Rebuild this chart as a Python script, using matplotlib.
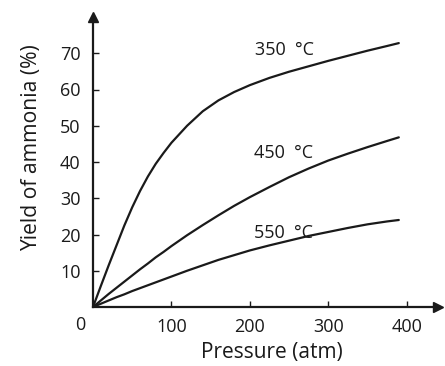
import matplotlib.pyplot as plt

# values
pressure = [0, 10, 20, 30, 40, 50, 60, 70, 80, 90, 100, 120, 140, 160, 180,
            200, 225, 250, 275, 300, 325, 350, 375, 390]
yield_350 = [0, 5.8, 11.5, 17, 22.5, 27.5, 32, 36, 39.5, 42.5, 45.3, 50, 54,
             57, 59.3, 61.2, 63.2, 64.9, 66.4, 67.9, 69.3, 70.7, 72, 72.8]
yield_450 = [0, 1.8, 3.6, 5.3, 7, 8.7, 10.4, 12, 13.7, 15.2, 16.8, 19.8, 22.6,
             25.3, 27.9, 30.3, 33.1, 35.8, 38.2, 40.4, 42.3, 44.1, 45.8, 46.8]
yield_550 = [0, 0.9, 1.8, 2.7, 3.5, 4.4, 5.2, 6, 6.8, 7.6, 8.4, 10, 11.5, 13,
             14.3, 15.6, 17, 18.3, 19.6, 20.7, 21.8, 22.8, 23.6, 24]

series = [yield_350, yield_450, yield_550]
labels = ["350  \u00b0C", "450  \u00b0C", "550  \u00b0C"]
label_pos = [(206, 70.8), (205, 42.4), (205, 20.4)]

x_ticks = [100, 200, 300, 400]
y_ticks = [10, 20, 30, 40, 50, 60, 70]

plt.rcParams['font.family'] = ['Open Sans', 'DejaVu Sans']
ink = '#1a1a1a'

fig = plt.figure(figsize=(4.45, 3.66), dpi=100)
ax = fig.add_axes([93 / 445, 59 / 366, 345 / 445, 290 / 366])

for ys in series:
    ax.plot(pressure, ys, color=ink, lw=1.6, solid_capstyle='round')

for txt, (tx, ty) in zip(labels, label_pos):
    ax.text(tx, ty, txt, fontsize=13, color=ink, va='center', ha='left')

ax.set_xlim(0, 440)
ax.set_ylim(0, 80)

for side in ['top', 'right']:
    ax.spines[side].set_visible(False)
for side in ['left', 'bottom']:
    ax.spines[side].set_linewidth(1.6)
    ax.spines[side].set_color(ink)

# arrow heads on the axes
ax.plot(1, 0, '>', color=ink, ms=7, transform=ax.transAxes, clip_on=False)
ax.plot(0, 1, '^', color=ink, ms=7, transform=ax.transAxes, clip_on=False)

ax.set_xticks(x_ticks)
ax.set_yticks(y_ticks)
ax.tick_params(direction='in', length=4, width=1, color=ink,
               labelsize=13, labelcolor=ink)
ax.tick_params(axis='x', pad=8)
ax.tick_params(axis='y', pad=9)
ax.text(-16.6, -5, "0", fontsize=13, color=ink, ha='center', va='center',
        clip_on=False)

ax.set_xlabel("Pressure (atm)", fontsize=15, color=ink)
ax.set_ylabel("Yield of ammonia (%)", fontsize=15.2, color=ink)
ax.xaxis.set_label_coords(0.519, -0.122)
ax.yaxis.set_label_coords(-0.148, 0.548)

fig.savefig("out.png", dpi=100)
